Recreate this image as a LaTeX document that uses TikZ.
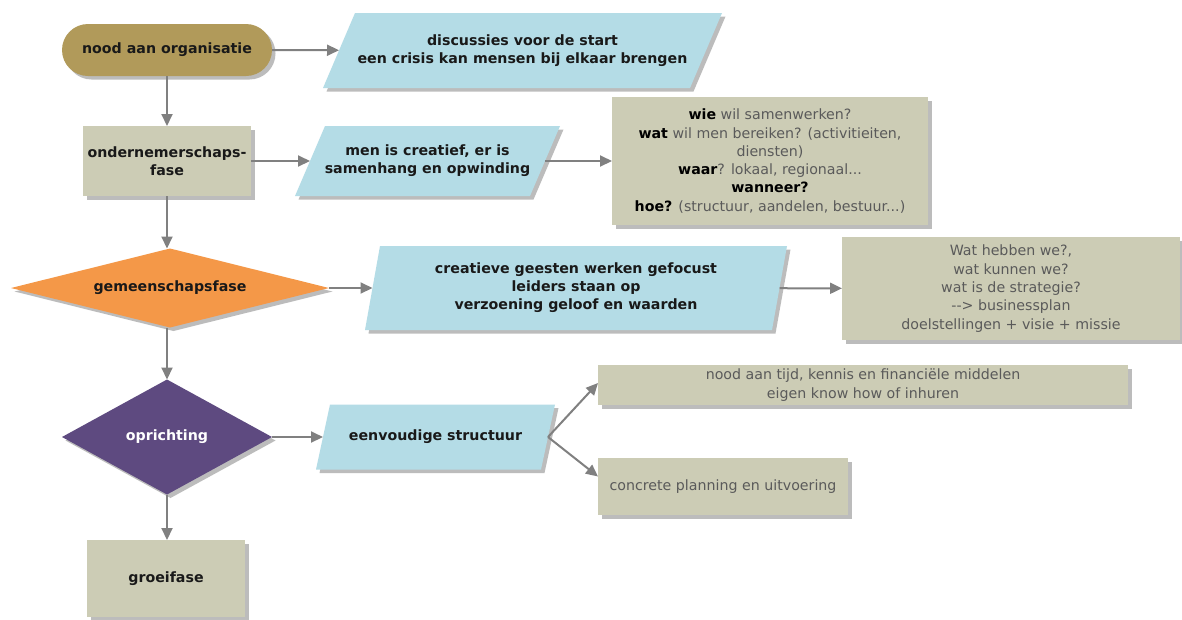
\documentclass[tikz,border=0pt]{standalone}
\usepackage{fontspec}
\setmainfont{DejaVu Sans}
\usetikzlibrary{shapes.geometric,shadows,arrows.meta,calc}
\definecolor{gold}{RGB}{177,154,90}
\definecolor{khaki}{RGB}{204,204,181}
\definecolor{lblue}{RGB}{180,220,230}
\definecolor{orng}{RGB}{244,152,72}
\definecolor{purp}{RGB}{94,74,128}
\definecolor{arr}{RGB}{128,128,128}
\definecolor{txtg}{RGB}{90,90,90}
\definecolor{txtd}{RGB}{25,25,25}
\newcommand\bk[1]{\textcolor{black}{\textbf{#1}}}
\tikzset{
 shad/.style={drop shadow={shadow xshift=3.5pt,shadow yshift=-3.5pt,opacity=0.4,fill=black!65}},
 conn/.style={draw=arr,line width=2pt,-{Triangle[length=12pt,width=11pt]}},
 boldtxt/.style={font=\bfseries\fontsize{14.2}{18}\selectfont,text=txtd},
 normtxt/.style={font=\fontsize{14.2}{18.3}\selectfont,text=txtg},
 box/.style={rectangle,fill=khaki,shad,align=center,inner sep=0pt,outer sep=0pt},
 paratext/.style={rectangle,align=center,inner sep=0pt,outer sep=0pt,boldtxt},
 diam/.style={diamond,shad,inner sep=0pt,outer sep=0pt,boldtxt},
}
\newcommand\paranode[7]{%
 \fill[lblue,shad] ({#2-#4/2+#6/2},{#3-#5/2}) -- ({#2+#4/2+#6/2},{#3-#5/2}) -- ({#2+#4/2-#6/2},{#3+#5/2}) -- ({#2-#4/2-#6/2},{#3+#5/2}) -- cycle;
 \node[paratext,minimum width=#4pt,minimum height=#5pt] (#1) at (#2,#3) {#7};
}
\begin{document}
\begin{tikzpicture}[x=1pt,y=-1pt]
\useasboundingbox[fill=white] (0,0) rectangle (1182,619);
% row 1
\node[rectangle,fill=gold,rounded corners=26pt,shad,boldtxt,minimum width=210pt,minimum height=52pt,inner sep=0pt,outer sep=0pt] (org) at (167,50) {nood aan organisatie};
\paranode{disc}{522.5}{50.5}{367}{75}{32}{discussies voor de start\\een crisis kan mensen bij elkaar brengen}
% row 2
\node[box,boldtxt,minimum width=168pt,minimum height=70pt] (ond) at (167,161) {ondernemerschaps-\\fase};
\paranode{creat}{427.5}{161}{235}{70}{30}{men is creatief, er is\\samenhang en opwinding}
\node[box,normtxt,minimum width=316pt,minimum height=128pt] (wie) at (770,161) {\bk{wie} wil samenwerken?\\
\bk{wat} wil men bereiken? (activitieiten,\\
diensten)\\
\bk{waar}? lokaal, regionaal...\\
\bk{wanneer?}\\
\bk{hoe?} (structuur, aandelen, bestuur...)};
% row 3
\node[diam,fill=orng,aspect=4.03,minimum width=318pt,minimum height=79pt] (gem) at (170,288) {gemeenschapsfase};
\paranode{geest}{576}{288}{407}{84}{15}{creatieve geesten werken gefocust\\leiders staan op\\verzoening geloof en waarden}
\node[box,normtxt,minimum width=338pt,minimum height=103pt] (wat) at (1011,288.5) {Wat hebben we?,\\wat kunnen we?\\wat is de strategie?\\-{}-{}> businessplan\\doelstellingen + visie + missie};
% row 4
\node[diam,fill=purp,text=white,aspect=1.83,minimum width=210pt,minimum height=115pt] (opr) at (167,437) {oprichting};
\paranode{eenv}{435.5}{437}{225}{65}{14}{eenvoudige structuur}
\node[box,normtxt,minimum width=530pt,minimum height=40pt] (nood) at (863,385) {nood aan tijd, kennis en financiële middelen\\eigen know how of inhuren};
\node[box,normtxt,minimum width=250pt,minimum height=57pt] (conc) at (723,486.5) {concrete planning en uitvoering};
% row 5
\node[box,boldtxt,minimum width=158pt,minimum height=77pt] (groei) at (166,578.5) {groeifase};
% connectors
\draw[conn] (org) -- (disc);
\draw[conn] (org.south) -- (org.south |- ond.north);
\draw[conn] (ond) -- (creat);
\draw[conn] (creat) -- (wie);
\draw[conn] (ond.south) -- (ond.south |- gem.north);
\draw[conn] (gem) -- (geest);
\draw[conn] (geest) -- (wat);
\draw[conn] (gem.south -| opr.north) -- (opr.north);
\draw[conn] (opr) -- (eenv);
\draw[conn] (eenv.east) -- ($(nood.west)+(0,-2)$);
\draw[conn] (eenv.east) -- ($(conc.west)+(0,-10)$);
\draw[conn] (opr.south) -- (groei.north -| opr.south);
\end{tikzpicture}
\end{document}
